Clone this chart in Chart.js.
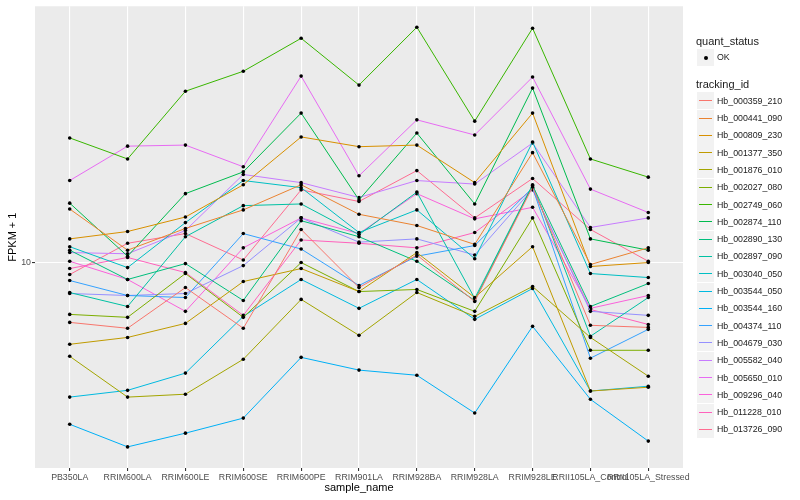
<!DOCTYPE html>
<html>
<head>
<meta charset="utf-8">
<script src="https://cdn.jsdelivr.net/npm/chart.js@4.4.1/dist/chart.umd.min.js"></script>
<style>
  body { margin: 0; background: #fff; }
  #wrap { position: relative; width: 800px; height: 500px; }
  #legend { position: absolute; left: 0; top: 0; font-family: "Liberation Sans", Arial, sans-serif; color: #1a1a1a; }
  #legend div { position: absolute; white-space: nowrap; }
  .ttl { font-size: 11px; line-height: 14px; }
  .lbl { font-size: 8.8px; line-height: 12px; }
  .key { width: 17px; height: 17px; background: #F2F2F2; }
</style>
</head>
<body>
<div id="wrap">
  <canvas id="fpkmChart" width="800" height="500"></canvas>
  <div id="legend"></div>
</div>
<script>
// samples on the x axis
const sampleNames = [
  "PB350LA", "RRIM600LA", "RRIM600LE", "RRIM600SE", "RRIM600PE", "RRIM901LA",
  "RRIM928BA", "RRIM928LA", "RRIM928LE", "RRII105LA_Control", "RRII105LA_Stressed"
];

// genes (tracking_id) and their colours (ggplot hue palette)
const trackingIds = [
  "Hb_000359_210", "Hb_000441_090", "Hb_000809_230", "Hb_001377_350", "Hb_001876_010",
  "Hb_002027_080", "Hb_002749_060", "Hb_002874_110", "Hb_002890_130", "Hb_002897_090",
  "Hb_003040_050", "Hb_003544_050", "Hb_003544_160", "Hb_004374_110", "Hb_004679_030",
  "Hb_005582_040", "Hb_005650_010", "Hb_009296_040", "Hb_011228_010", "Hb_013726_090"
];
const lineColors = [
  "#F8766D", "#EA8331", "#D89000", "#C09B00", "#A3A500",
  "#7CAE00", "#39B600", "#00BB4E", "#00BF7D", "#00C1A3",
  "#00BFC4", "#00BAE0", "#00B0F6", "#35A2FF", "#9590FF",
  "#C77CFF", "#E76BF3", "#FA62DB", "#FF62BC", "#FF6C91"
];

// FPKM + 1 per gene, one value per sample
const hb000359_210 = [6.31, 6.03, 8.25, 6.03, 12.9, 8.25, 10.6, 7.41, 17.9, 6.17, 6.07];
const hb000441_090 = [15.1, 11.0, 13.0, 15.0, 18.2, 14.5, 13.3, 11.5, 23.3, 9.85, 11.2];
const hb000809_230 = [12.0, 12.7, 14.2, 18.2, 26.3, 24.4, 24.7, 18.5, 31.6, 9.7, 10.0];
const hb001377_350 = [5.33, 5.62, 6.26, 8.64, 9.55, 8.00, 10.8, 7.64, 11.3, 3.72, 3.83];
const hb001876_010 = [4.86, 3.55, 3.63, 4.75, 7.53, 5.71, 7.94, 6.61, 8.32, 5.62, 4.17];
const hb002027_080 = [6.71, 6.56, 9.19, 6.56, 10.0, 8.00, 8.13, 6.87, 14.1, 5.09, 5.09];
const hb002749_060 = [26.1, 22.2, 37.4, 43.6, 56.2, 39.2, 61.2, 29.7, 60.7, 22.2, 19.3];
const hb002874_110 = [15.8, 10.5, 17.0, 20.1, 31.6, 16.2, 27.1, 15.7, 38.3, 12.0, 11.0];
const hb002890_130 = [11.0, 8.78, 9.92, 7.47, 13.8, 12.2, 10.1, 7.47, 18.1, 7.13, 8.51];
const hb002897_090 = [7.94, 7.13, 12.2, 15.5, 15.7, 12.4, 17.2, 7.59, 18.2, 5.67, 7.64];
const hb003040_050 = [11.3, 9.62, 13.6, 18.8, 17.8, 12.6, 15.0, 10.3, 25.3, 9.19, 8.91];
const hb003544_050 = [3.55, 3.74, 4.27, 6.61, 8.78, 7.03, 8.78, 6.46, 8.19, 3.72, 3.86];
const hb003544_160 = [2.88, 2.42, 2.69, 3.02, 4.82, 4.37, 4.20, 3.14, 6.12, 3.49, 2.53];
const hb004374_110 = [8.71, 7.76, 7.64, 12.5, 11.1, 8.38, 10.5, 11.4, 17.8, 4.79, 5.98];
const hb004679_030 = [7.88, 7.76, 7.88, 9.77, 14.1, 11.7, 12.0, 10.6, 17.6, 6.87, 6.66];
const hb005582_040 = [10.8, 10.7, 12.8, 19.7, 18.5, 16.5, 18.8, 18.3, 25.1, 13.1, 14.1];
const hb005650_010 = [18.8, 24.5, 24.7, 20.9, 42.0, 19.5, 30.0, 26.7, 41.7, 17.6, 14.7];
const hb009296_040 = [10.1, 8.78, 6.87, 11.2, 14.1, 12.5, 17.0, 14.0, 15.3, 7.03, 7.76];
const hb011228_010 = [9.55, 10.4, 9.26, 6.66, 11.9, 11.6, 11.2, 12.6, 17.5, 6.97, 6.21];
const hb013726_090 = [9.12, 11.6, 12.5, 10.2, 17.5, 16.0, 20.3, 14.1, 19.1, 12.9, 10.1];

const seriesValues = [
  hb000359_210, hb000441_090, hb000809_230, hb001377_350, hb001876_010,
  hb002027_080, hb002749_060, hb002874_110, hb002890_130, hb002897_090,
  hb003040_050, hb003544_050, hb003544_160, hb004374_110, hb004679_030,
  hb005582_040, hb005650_010, hb009296_040, hb011228_010, hb013726_090
];

const yTicks = [10];
const quantStatus = ["OK"];

const FONT = '"Liberation Sans", Arial, sans-serif';
Chart.defaults.font.family = FONT;

// grey panel behind the plot like ggplot's theme_grey
const panelBg = {
  id: "panelBg",
  beforeDraw(chart) {
    const { ctx, chartArea: a } = chart;
    ctx.save();
    ctx.fillStyle = "#EBEBEB";
    ctx.fillRect(a.left, a.top, a.right - a.left, a.bottom - a.top);
    ctx.restore();
  }
};

const datasets = seriesValues.map((vals, k) => ({
  label: trackingIds[k],
  data: vals.map((v, i) => ({ x: i, y: v })),
  borderColor: lineColors[k],
  borderWidth: 1,
  pointRadius: 1.8,
  pointBackgroundColor: "#000",
  pointBorderColor: "#000",
  pointBorderWidth: 0,
  tension: 0
}));

new Chart(document.getElementById("fpkmChart").getContext("2d"), {
  type: "line",
  data: { datasets },
  options: {
    responsive: false,
    animation: false,
    events: [],
    layout: { padding: { top: 5, right: 117, left: 0, bottom: 0 } },
    plugins: { legend: { display: false }, tooltip: { enabled: false } },
    scales: {
      x: {
        type: "linear",
        min: -0.6,
        max: sampleNames.length - 1 + 0.6,
        afterFit: (s) => { s.height = 32; },
        afterBuildTicks: (s) => { s.ticks = sampleNames.map((_, i) => ({ value: i })); },
        ticks: {
          autoSkip: false, maxRotation: 0, minRotation: 0, padding: 1,
          color: "#4D4D4D", font: { size: 8.8 },
          callback: (v) => sampleNames[v]
        },
        grid: { color: "#FFFFFF", lineWidth: 1.1, tickColor: "#333333", tickLength: 3 },
        border: { display: false },
        title: { display: true, text: "sample_name", color: "#000", font: { size: 11 }, padding: { top: 0, bottom: 5.4 } }
      },
      y: {
        type: "logarithmic",
        min: 2.057,
        max: 71.9,
        afterFit: (s) => { s.width = 35; },
        afterBuildTicks: (s) => { s.ticks = yTicks.map((v) => ({ value: v })); },
        ticks: { padding: 1, color: "#4D4D4D", font: { size: 8.8 }, callback: (v) => String(v) },
        grid: { color: "#FFFFFF", lineWidth: 1.1, tickColor: "#333333", tickLength: 3 },
        border: { display: false },
        title: { display: true, text: "FPKM + 1", color: "#000", font: { size: 11 }, padding: { top: 6, bottom: 0 } }
      }
    }
  },
  plugins: [panelBg]
});

// legend (two guides: quant_status point, tracking_id lines)
const leg = document.getElementById("legend");
function add(cls, text, x, y) {
  const d = document.createElement("div");
  d.className = cls;
  d.style.left = x + "px";
  d.style.top = Math.round(y) + "px";
  if (text) d.textContent = text;
  leg.appendChild(d);
  return d;
}
add("ttl", "quant_status", 696, 33.5);
quantStatus.forEach((q, i) => {
  const cy = 57 + i * 17.3;
  const k = add("key", "", 697, cy - 8.5);
  const dot = document.createElement("div");
  Object.assign(dot.style, { left: "6.5px", top: "6.5px", width: "4px", height: "4px", borderRadius: "50%", background: "#000" });
  k.appendChild(dot);
  add("lbl", q, 717, cy - 6);
});
add("ttl", "tracking_id", 696, 77);
trackingIds.forEach((id, i) => {
  const cy = 100.7 + i * 17.3;
  const k = add("key", "", 697, cy - 8.5);
  const ln = document.createElement("div");
  Object.assign(ln.style, { left: "2px", width: "13px", top: "8px", height: "1px", background: lineColors[i] });
  k.appendChild(ln);
  add("lbl", id, 717, cy - 6);
});
</script>
</body>
</html>
